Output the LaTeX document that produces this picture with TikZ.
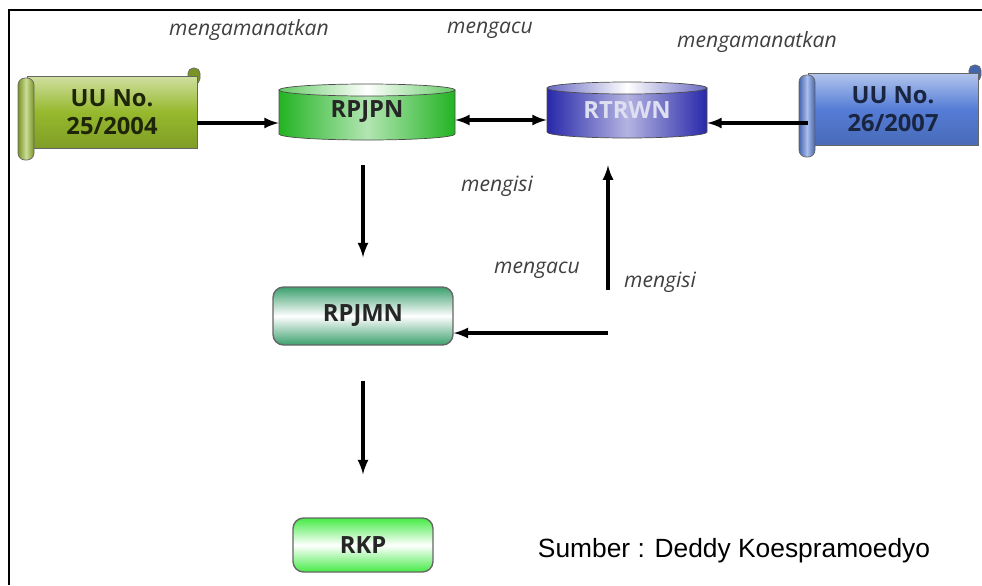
\documentclass[tikz,border=0pt]{standalone}
\usepackage{fontspec}
\setmainfont{Open Sans}
\newfontfamily\sourcefont{Liberation Sans}
\usetikzlibrary{calc,backgrounds}

\definecolor{uugreen}{RGB}{150,185,45}
\definecolor{uublue}{RGB}{85,125,215}
\definecolor{pngreen}{RGB}{35,180,35}
\definecolor{rwblue}{RGB}{40,40,170}
\definecolor{mngreen}{RGB}{60,160,110}
\definecolor{kpgreen}{RGB}{70,235,70}

\tikzstyle{verb}=[font=\fontsize{12}{14}\selectfont\itshape, text=black!75, inner sep=1pt]
\tikzstyle{boxtext}=[font=\fontsize{13.5}{16}\selectfont\bfseries, align=center, inner sep=0pt]
\tikzstyle{plan}=[rectangle, rounded corners=6pt, draw=black!60, line width=0.8pt, boxtext, text=black!85]
\tikzstyle{arr}=[line width=1.8pt, -latex]

% name, x, y, half width, colour, text colour, text
\newcommand{\drawdrum}[7]
{
  \node[boxtext, text=#6, minimum width=#4*0.04cm, minimum height=1.12cm](#1) at (#2,#3){#7};
  \begin{pgfonlayer}{background}
    \path[draw=black!70, left color=#5, right color=#5, middle color=#5!35!white]
      (#2-#4,#3+22) -- (#2-#4,#3-22) arc (180:360:#4 and 6) -- (#2+#4,#3+22) -- cycle;
    \path[draw=black!70, left color=#5!70!white, right color=#5!70!white, middle color=white]
      (#2,#3+22) ellipse (#4 and 6);
  \end{pgfonlayer}
}

% name, x, y, colour, text colour, text
\newcommand{\drawscroll}[6]
{
  \node[boxtext, text=#5, minimum width=3.4cm, minimum height=1.44cm](#1) at (#2,#3){#6};
  \begin{pgfonlayer}{background}
    \path[draw=black!60, fill=#4!80!black, rounded corners=3pt] (#2+76,#3+44) rectangle (#2+88,#3+28);
    \path[draw=black!60, top color=#4!45!white, bottom color=#4!85!black, middle color=#4] (#2-85,#3-36) rectangle (#2+85,#3+36);
    \path[draw=black!60, left color=#4!80!black, right color=#4!80!black, middle color=#4!50!white, rounded corners=4pt] (#2-94,#3+34) rectangle (#2-78,#3-48);
  \end{pgfonlayer}
}

\begin{document}
\begin{tikzpicture}[x=0.02cm, y=0.02cm]
	\useasboundingbox (0,0) rectangle (982,-585);
	\draw[line width=1.7pt] (9,-585) -- (9,-10) -- (982,-10);

	\drawscroll{uu25}{112}{-112}{uugreen}{black!80!uugreen}{UU No.\\25/2004}
	\drawscroll{uu26}{893}{-109}{uublue}{black!70!uublue}{UU No.\\26/2007}
	\drawdrum{rpjpn}{367}{-112}{88}{pngreen}{black!85}{RPJPN}
	\drawdrum{rtrwn}{627}{-110}{80}{rwblue}{white!85!rwblue}{RTRWN}

	\node[plan, top color=mngreen, bottom color=mngreen, middle color=white, minimum width=3.6cm, minimum height=1.16cm](rpjmn) at (363,-316){RPJMN};
	\node[plan, top color=kpgreen, bottom color=kpgreen, middle color=white, minimum width=2.8cm, minimum height=1.08cm](rkp) at (363,-545){RKP};

	\coordinate (feed) at (608,-333);
	\coordinate (feedup) at (608,-290);

	\draw[arr] ($(uu25.east)+(0,-11)$) -- ($(uu25.east -| rpjpn.west)+(0,-11)$);
	\draw[arr, latex-latex] ($(rpjpn.east)+(0,-8)$) -- ($(rpjpn.east -| rtrwn.west)+(0,-8)$);
	\draw[arr] ($(uu26.west)+(0,-14)$) -- ($(uu26.west -| rtrwn.east)+(0,-14)$);
	\draw[arr] ($(rpjmn.north |- rpjpn.south)+(0,-25)$) -- ($(rpjmn.north)+(0,29)$);
	\draw[arr] ($(rpjmn.south)+(0,-35)$) -- ($(rkp.north)+(0,43)$);
	\draw[arr] (feed) -- (feed -| rpjmn.east);
	\draw[arr] (feedup) -- ($(feedup |- rtrwn.south)+(0,-27)$);

	\node[verb](amanat1) at (249,-30){mengamanatkan};
	\node[verb](acu1) at (490,-30){mengacu};
	\node[verb](amanat2) at (757,-42){mengamanatkan};
	\node[verb](isi1) at (497,-186){mengisi};
	\node[verb](acu2) at (537,-270){mengacu};
	\node[verb](isi2) at (660,-282){mengisi};

	\node[font=\sourcefont\fontsize{15}{18}\selectfont](sumber) at (734,-551){Sumber : Deddy Koespramoedyo};
\end{tikzpicture}
\end{document}
